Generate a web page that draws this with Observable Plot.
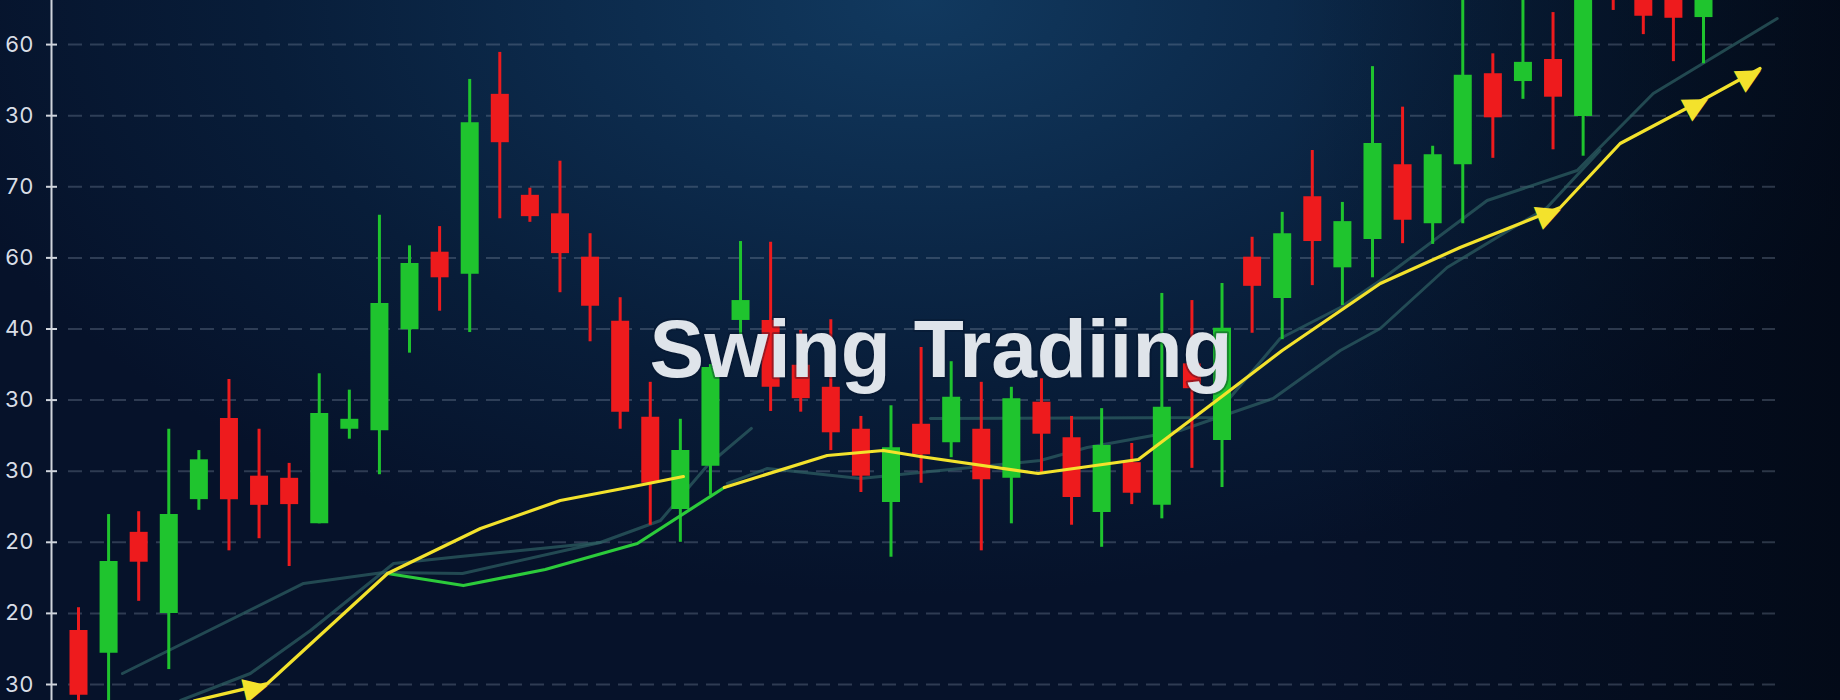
<!DOCTYPE html>
<html>
<head>
<meta charset="utf-8">
<script src="https://cdn.jsdelivr.net/npm/d3@7"></script>
<script src="https://cdn.jsdelivr.net/npm/@observablehq/plot@0.6"></script>
<style>
  html, body { margin: 0; padding: 0; background: #06122a; }
  #chart {
    width: 1840px; height: 700px; position: relative; overflow: hidden;
    background:
      linear-gradient(90deg, rgba(1,5,12,0) 0%, rgba(1,5,12,0) 70%, rgba(1,5,12,0.6) 100%),
      radial-gradient(ellipse 55% 85% at 50% 0%, #11395f 0%, #0c2a4b 35%, #081d39 65%, rgba(6,18,40,0) 100%),
      #06122a;
  }
  #chart svg { display: block; overflow: hidden; }
</style>
</head>
<body>
<div id="chart"></div>
<script>
// ---- Data ----
const yTickValues = [0, 10, 20, 30, 40, 50, 60, 70, 80, 90];
const yTickLabels = ["30", "20", "20", "30", "30", "40", "60", "70", "30", "60"]; // bottom → top

const candleOpen  = [7.6,4.4,21.4,10.0,26.0,37.4,29.3,29.0,22.6,35.9,35.7,49.9,60.8,57.7,83.0,68.8,66.2,60.1,51.1,37.6,24.6,30.7,51.2,51.2,44.9,41.8,35.9,25.6,36.6,34.0,35.9,29.0,39.7,34.7,24.2,31.2,25.2,45.1,34.3,60.1,54.3,68.6,58.6,62.6,73.1,64.8,73.1,85.9,84.8,87.9,79.9,104,102,100,93.8];
const candleClose = [-1.5,17.3,17.2,23.9,31.6,26.0,25.2,25.3,38.1,37.3,53.6,59.2,57.2,79.0,76.2,65.8,60.6,53.2,38.3,28.3,32.9,44.6,54.0,41.8,40.2,35.4,29.3,33.3,32.3,40.4,28.8,40.2,35.2,26.3,33.6,26.9,39.0,41.6,50.1,56.0,63.4,62.3,65.1,76.1,65.3,74.5,85.7,79.7,87.5,82.6,99,100,94.0,93.7,100];
const candleHigh  = [10.8,23.9,24.3,35.9,32.9,42.9,35.9,31.1,43.7,41.4,66.0,61.7,64.4,85.1,88.9,69.8,73.6,63.4,54.4,42.5,37.3,45.0,62.3,62.2,49.8,51.3,37.7,39.2,47.4,45.4,42.5,41.8,43.0,37.7,38.8,33.9,55.0,54.0,56.4,62.9,66.4,75.1,67.8,86.9,81.2,75.7,99,88.7,99,94.5,101,106,104,102,102];
const candleLow   = [-3.0,-3.0,11.7,2.1,24.5,18.8,20.5,16.6,22.6,34.5,29.5,46.6,52.5,49.5,65.5,65.0,55.1,48.2,35.9,22.4,20.0,26.6,49.2,38.4,38.3,32.9,27.0,17.9,28.3,31.9,18.8,22.6,29.8,22.4,19.3,25.3,23.3,30.4,27.7,49.4,48.5,56.1,53.3,57.2,62.0,61.9,64.8,74.0,82.3,75.2,74.3,94.8,91.4,87.6,87.3];

// swing path (yellow), early up-leg (green), faint moving averages (teal): [candle index, value]
const yellowA = [[3.85,-2.3],[6.28,0.14],[10.27,15.61],[13.36,21.94],[16.01,25.88],[18.44,27.85],[20.10,29.25]];
const greenLeg = [[10.27,15.61],[12.79,13.92],[15.51,16.17],[18.57,19.83],[21.46,27.71]];
const yellowB = [[21.46,27.71],[24.88,32.21],[26.74,32.91],[27.97,32.07],[31.89,29.68],[35.22,31.65],[38.04,40.65],[40.0,46.98],[43.26,56.40],[45.91,61.46],[49.24,67.09],[51.23,76.09],[54.12,82.56],[55.88,86.64]];
const tealA = [[1.46,1.55],[7.48,14.21],[10.13,15.75],[12.76,15.61],[17.34,19.97],[19.34,23.07],[20.90,30.80],[22.36,36.01]];
const tealB = [[3.39,-2.25],[5.71,1.55],[7.71,7.59],[10.47,17.02],[12.69,18.0],[17.34,19.97]];
const tealC = [[21.56,28.27],[22.89,30.38],[25.98,28.97],[27.97,29.82],[31.96,31.50],[33.52,33.33],[36.61,35.72],[39.70,40.23],[41.93,46.98],[43.26,50.07],[45.48,58.65],[48.80,67.09],[50.56,75.11]];
const tealD = [[28.31,37.41],[37.71,37.55],[39.93,48.66],[41.93,53.02],[43.26,56.82],[46.81,68.07],[49.80,72.29],[52.33,83.12],[56.45,93.67]];
// arrowheads sit on these vertices: [line, vertex index]
const arrowVertices = [["A", 1], ["B", 10], ["B", 12], ["B", 13]];
const titleText = "Swing Tradiing";

// ---- Styles ----
const GREEN = "#1fc42e", RED = "#ee1b1d", YELLOW = "#f3e22c", LEG = "#2ccb3b", TEAL = "#2f6164";
const xScaleOpts = {domain: [0, 54], range: [78, 1703]};
const yScaleOpts = {domain: [-2.25, 96.2], range: [700, 0]};

const candles = candleOpen.map((o, i) => ({
  i, open: o, close: candleClose[i], high: candleHigh[i], low: candleLow[i]
}));
const up = candles.filter(d => d.close >= d.open);
const down = candles.filter(d => d.close < d.open);

const sx = Plot.scale({x: xScaleOpts});
const sy = Plot.scale({y: yScaleOpts});
const arrows = arrowVertices.map(([line, j]) => {
  const pts = line === "A" ? yellowA : yellowB;
  const p = pts[j], q = pts[j - 1];
  const ang = Math.atan2(sy.apply(p[1]) - sy.apply(q[1]), sx.apply(p[0]) - sx.apply(q[0])) * 180 / Math.PI;
  return {x: p[0], y: p[1], angle: ang};
});

const lineOpts = (stroke, w, op) => ({x: d => d[0], y: d => d[1], stroke, strokeWidth: w, strokeOpacity: op, strokeLinejoin: "round", strokeLinecap: "round", clip: true});

const chart = Plot.plot({
  width: 1840, height: 700,
  marginLeft: 51, marginRight: 0, marginTop: 0, marginBottom: 0,
  x: {...xScaleOpts, axis: null},
  y: yScaleOpts,
  style: {background: "transparent", fontFamily: "Inter, 'Noto Sans', sans-serif", overflow: "hidden"},
  marks: [
    Plot.gridY({ticks: yTickValues, stroke: "#8293a8", strokeOpacity: 0.32, strokeWidth: 2, strokeDasharray: "14,8", insetLeft: 17, insetRight: 65}),
    Plot.gridY({ticks: yTickValues, stroke: "#cfd4dc", strokeOpacity: 1, strokeWidth: 2, insetRight: 1783}),
    Plot.frame({anchor: "left", stroke: "#cfd4dc", strokeWidth: 2}),
    Plot.axisY({ticks: yTickValues, tickFormat: d => yTickLabels[Math.round(d / 10)], tickSize: 5, tickPadding: 13,
      fontSize: 22, fill: "#d9dee6", stroke: "#cfd4dc", strokeWidth: 2, label: null}),
    // faint moving averages
    Plot.line(tealA, lineOpts(TEAL, 3, 0.7)),
    Plot.line(tealB, lineOpts(TEAL, 3, 0.7)),
    Plot.line(tealC, lineOpts(TEAL, 3, 0.7)),
    Plot.line(tealD, lineOpts(TEAL, 3, 0.7)),
    // candles
    Plot.ruleX(up, {x: "i", y1: "low", y2: "high", stroke: GREEN, strokeWidth: 3, clip: true}),
    Plot.ruleX(down, {x: "i", y1: "low", y2: "high", stroke: RED, strokeWidth: 3, clip: true}),
    Plot.ruleX(up, {x: "i", y1: "open", y2: "close", stroke: GREEN, strokeWidth: 18, clip: true}),
    Plot.ruleX(down, {x: "i", y1: "open", y2: "close", stroke: RED, strokeWidth: 18, clip: true}),
    // swing path
    Plot.line(greenLeg, lineOpts(LEG, 3.2, 1)),
    Plot.line(yellowA, lineOpts(YELLOW, 3.2, 1)),
    Plot.line(yellowB, lineOpts(YELLOW, 3.2, 1)),
    Plot.text(arrows, {x: "x", y: "y", text: () => "\u25B6", rotate: "angle", fill: YELLOW, fontSize: 32,
      fontFamily: "DejaVu Sans", textAnchor: "end", lineAnchor: "middle", clip: true}),
    // title
    Plot.text([titleText], {frameAnchor: "middle", text: d => d, dx: -5, fontSize: 82, fontWeight: 700,
      fontFamily: "'Liberation Sans', Arial, sans-serif", fill: "#dfe4ea",
      stroke: "#06142a", strokeOpacity: 0.35, strokeWidth: 4})
  ]
});
document.getElementById("chart").appendChild(chart);
</script>
</body>
</html>
